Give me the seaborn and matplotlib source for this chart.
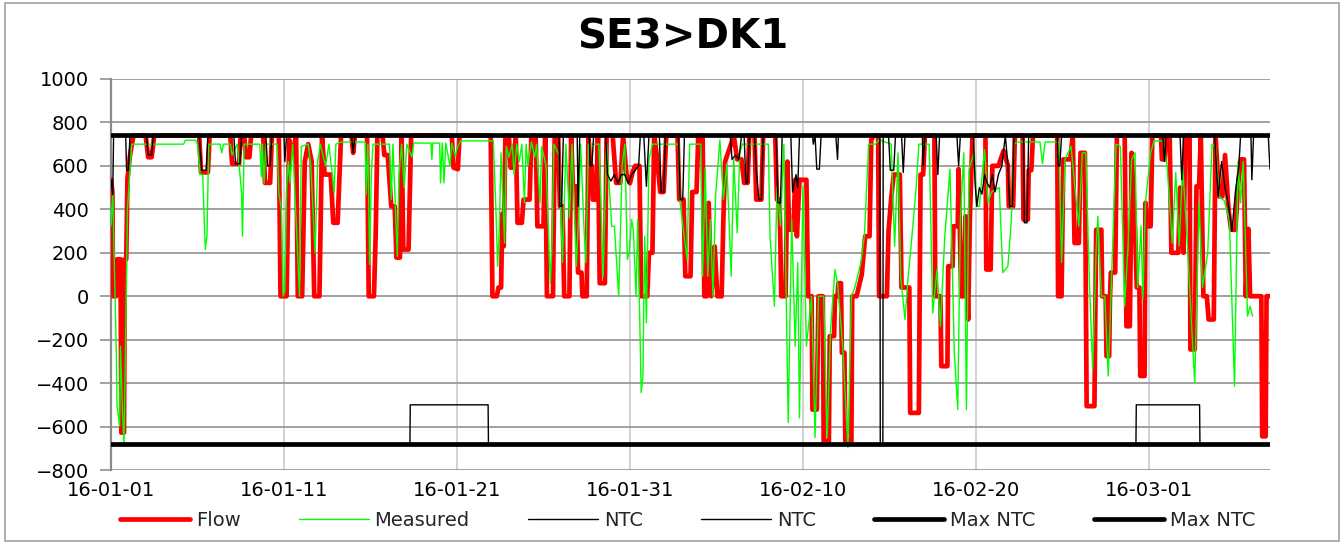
import numpy as np
import pandas as pd
import matplotlib
matplotlib.use("Agg")
import matplotlib.pyplot as plt
import matplotlib.patches as mpatches
import seaborn as sns

# ---------------- data (days since 2016-01-01, MW) ----------------
flow_day = [0.0, 0.08, 0.12, 0.3, 0.35, 0.55, 0.6, 0.75, 0.8, 0.88, 0.95, 1.1, 1.3,
            2.0, 2.15, 2.35, 2.5, 5.1, 5.2, 5.6, 5.7, 6.9, 7.0, 7.4, 7.5, 7.7, 7.8, 8.0, 8.1,
            8.8, 8.9, 9.2, 9.3, 9.7, 9.8, 10.15, 10.3, 10.5, 10.7, 10.8, 11.05, 11.2, 11.4, 11.6,
            11.75, 12.05, 12.2, 12.35, 12.7, 12.85, 13.1, 13.3, 13.9, 14.0, 14.1,
            14.8, 14.9, 15.2, 15.3, 15.4, 15.7, 15.8, 16.0, 16.2, 16.4, 16.5, 16.7, 16.8, 16.9, 17.2, 17.35,
            19.7, 19.8, 20.05, 20.15, 21.95, 22.05, 22.3, 22.4, 22.55, 22.62, 22.7, 22.8, 23.0, 23.1,
            23.3, 23.4, 23.5, 23.75, 23.85, 24.2, 24.3, 24.55, 24.65, 25.0, 25.1, 25.2, 25.55, 25.65,
            25.85, 25.95, 26.1, 26.2, 26.5, 26.6, 26.7, 26.9, 27.0, 27.2, 27.25, 27.5, 27.6, 27.7,
            27.8, 27.85, 28.05, 28.15, 28.25, 28.55, 28.65, 29.0, 29.2, 29.45, 29.6, 29.8, 30.0,
            30.15, 30.3, 30.55, 30.65, 31.0, 31.1, 31.3, 31.4, 31.55, 31.75, 31.95, 32.1, 32.75,
            32.85, 33.1, 33.2, 33.5, 33.6, 33.85, 33.95, 34.2, 34.3, 34.45, 34.55, 34.7, 34.9, 35.05,
            35.3, 35.4, 35.5, 35.8, 36.0, 36.2, 36.45, 36.6, 36.8, 36.9, 37.2, 37.3, 37.6, 37.7,
            38.4, 38.5, 38.65, 38.75, 39.0, 39.1, 39.2, 39.45, 39.55, 39.65, 39.8, 40.2, 40.3, 40.5,
            40.55, 40.8, 40.9, 41.15, 41.2, 41.5, 41.55, 41.8, 41.85, 42.0, 42.05, 42.2, 42.25, 42.4,
            42.45, 42.8, 42.85, 43.1, 43.4, 43.6, 43.85, 43.95, 44.1, 44.35, 44.4, 44.85, 44.95, 45.1,
            45.25, 45.6, 45.7, 46.15, 46.2, 46.7, 46.75, 46.8, 46.95, 47.05, 47.6, 47.65, 47.95, 48.0,
            48.35, 48.4, 48.65, 48.7, 48.95, 49.0, 49.15, 49.3, 49.4, 49.55, 49.65, 49.8, 50.55, 50.6,
            50.85, 50.95, 51.3, 51.6, 51.85, 51.9, 52.15, 52.25, 52.7, 52.75, 53.0, 53.05, 53.2, 53.3,
            54.7, 54.75, 54.95, 55.05, 55.45, 55.6, 55.7, 55.95, 56.05, 56.3, 56.4, 56.85, 56.95, 57.25,
            57.3, 57.5, 57.55, 57.7, 57.75, 57.8, 58.05, 58.15, 58.6, 58.7, 58.9, 59.0, 59.2, 59.3,
            59.45, 59.5, 59.75, 59.8, 59.9, 60.1, 60.2, 60.7, 60.75, 60.9, 61.0, 61.2, 61.3, 61.7,
            61.8, 62.0, 62.1, 62.35, 62.4, 62.65, 62.75, 62.9, 63.0, 63.15, 63.35, 63.45, 63.75, 63.85,
            64.05, 64.25, 64.4, 64.6, 64.75, 65.0, 65.15, 65.3, 65.5, 65.6, 65.75, 65.85, 66.5, 66.55,
            66.75, 66.8, 67.0]
flow_val = [537, 480, 0, 0, 170, 170, -628, -628, 170, 170, 540, 650, 740,
            740, 640, 640, 740, 740, 570, 570, 740, 740, 610, 610, 740, 740, 640, 640, 740,
            740, 522, 522, 740, 740, 0, 0, 720, 650, 740, 0, 0, 620, 700, 620,
            0, 0, 740, 560, 560, 338, 338, 740, 740, 660, 740,
            740, 0, 0, 280, 740, 740, 650, 650, 414, 414, 178, 178, 740, 215, 215, 740,
            740, 592, 585, 740, 740, 0, 0, 40, 40, 380, 230, 740, 740, 592,
            592, 740, 338, 338, 445, 445, 740, 740, 322, 322, 740, 0, 0, 740,
            740, 414, 414, 0, 0, 740, 506, 506, 109, 109, 0, 0, 740, 600,
            600, 445, 445, 740, 60, 60, 740, 740, 522, 522, 740, 560, 520,
            570, 600, 600, 0, 0, 200, 200, 740, 650, 480, 480, 740, 740,
            445, 445, 92, 92, 480, 480, 740, 740, 0, 0, 430, 0, 229, 0,
            0, 353, 620, 690, 740, 630, 630, 522, 522, 740, 740, 445, 445, 740,
            740, 445, 445, 0, 0, 620, 306, 306, 536, 276, 536, 536, 0, 0,
            -522, -522, 0, 0, -668, -668, -184, -184, 0, 0, 60, 60, -260, -260,
            -668, -668, 0, 0, 100, 276, 276, 720, 740, 740, 0, 0, 300, 450,
            560, 560, 40, 40, -537, -537, 0, 560, 560, 740, 740, 0, 0, -322,
            -322, 138, 138, 322, 322, 585, 0, 0, 368, -107, 353, 740, 740, 123,
            123, 600, 600, 670, 600, 414, 414, 740, 740, 353, 353, 580, 580, 740,
            740, 0, 0, 630, 630, 740, 245, 245, 660, 660, -506, -506, 306, 306,
            0, 0, -276, -276, 0, 109, 109, 740, 740, -138, -138, 660, 300, 40,
            40, -367, -367, 430, 322, 322, 740, 740, 630, 630, 740, 740, 200, 200,
            500, 200, 740, 740, -245, -245, 506, 506, 740, 0, 0, -107, -107, 740,
            460, 460, 650, 400, 306, 306, 506, 630, 630, 0, 310, 0, 0, -645,
            -645, 0, 0]

meas_day = [0.0, 0.1, 0.3, 0.35, 0.5, 0.55, 0.65, 0.75, 0.85, 0.95, 1.2, 4.2, 4.3, 4.9, 5.0,
            5.15, 5.3, 5.45, 5.55, 5.65, 6.3, 6.4, 6.5, 6.9, 7.0, 7.3, 7.55, 7.6, 7.7, 8.6, 8.7,
            8.75, 8.85, 8.95, 9.6, 9.7, 9.85, 9.95, 10.05, 10.15, 10.25, 10.35, 10.5, 10.9, 11.0,
            11.4, 11.55, 11.8, 11.95, 12.1, 12.4, 12.6, 12.9, 13.0, 13.3, 14.7, 14.75, 14.85, 14.95,
            15.05, 15.15, 16.1, 16.2, 16.3, 16.55, 16.65, 16.8, 16.95, 17.1, 17.4, 17.5, 18.5, 18.55,
            18.6, 19.0, 19.05, 19.15, 19.25, 19.35, 19.6, 19.7, 19.9, 20.0, 20.2, 22.1, 22.25, 22.35,
            22.45, 22.55, 22.75, 22.85, 23.0, 23.2, 23.3, 23.45, 23.6, 23.75, 23.9, 24.0, 24.1, 24.3,
            24.5, 24.6, 24.8, 24.9, 25.15, 25.4, 25.5, 25.6, 25.9, 26.1, 26.3, 26.5, 26.65, 26.9,
            27.05, 27.15, 27.35, 27.45, 27.6, 28.2, 28.3, 28.45, 28.65, 28.95, 29.1, 29.35, 29.55,
            29.7, 29.85, 29.95, 30.1, 30.2, 30.35, 30.45, 30.65, 30.75, 30.85, 30.95, 31.1, 31.3,
            32.8, 32.9, 33.3, 33.45, 34.1, 34.2, 34.35, 34.5, 34.65, 34.8, 34.95, 35.2, 35.4, 35.6,
            35.85, 36.0, 36.2, 36.35, 36.5, 38.0, 38.1, 38.35, 38.5, 38.7, 38.9, 39.0, 39.15, 39.35,
            39.55, 39.7, 39.8, 40.0, 40.2, 40.5, 40.7, 40.9, 41.2, 41.4, 41.6, 41.85, 42.0, 42.3,
            42.6, 42.8, 43.0, 43.35, 43.55, 43.8, 44.2, 44.4, 45.1, 45.3, 45.5, 45.65, 45.9, 46.05,
            46.3, 46.55, 46.7, 47.3, 47.5, 47.75, 47.95, 48.2, 48.5, 48.75, 48.95, 49.1, 49.3, 49.45,
            49.6, 49.9, 50.05, 50.2, 50.3, 50.5, 50.7, 50.9, 51.35, 51.55, 51.85, 52.05, 52.2, 52.4,
            53.7, 53.85, 54.0, 54.8, 54.95, 55.15, 55.5, 55.75, 55.95, 56.15, 56.35, 56.55, 56.75,
            56.95, 57.05, 57.25, 57.45, 57.65, 57.85, 58.1, 58.35, 58.6, 58.8, 59.0, 59.2, 59.35,
            59.55, 59.65, 59.8, 60.1, 60.3, 60.8, 61.05, 61.35, 61.55, 61.75, 61.95, 62.2, 62.45,
            62.65, 62.9, 63.1, 63.4, 63.65, 63.85, 64.05, 64.35, 64.65, 64.95, 65.15, 65.3, 65.45,
            65.7, 65.85, 66.0]
meas_val = [322, 475, -230, -505, -597, -230, -500, -690, -170, 400, 700, 700, 718, 718, 700,
            560, 560, 215, 280, 700, 700, 660, 700, 700, 650, 700, 475, 276, 700, 700, 550,
            700, 520, 700, 700, 480, 400, 0, 20, 500, 620, 522, 700, 0, 690,
            700, 600, 200, 620, 700, 600, 700, 475, 700, 710, 710, 470, 700, 146,
            570, 700, 700, 446, 700, 184, 560, 700, 500, 700, 640, 705, 705, 630,
            705, 705, 522, 705, 522, 705, 600, 705, 645, 680, 715, 715, 400, 138,
            322, 660, 245, 690, 640, 700, 560, 700, 620, 700, 430, 700, 600, 710,
            640, 700, 430, 690, 600, 60, 250, 700, 650, 155, 700, 360, 700, 138,
            400, 700, 300, 155, 700, 700, 500, 92, 700, 322, 322, 0, 600,
            700, 169, 200, 353, 300, 0, 353, -444, -367, 276, -122, 630, 700,
            700, 430, 169, 700, 700, 92, 590, 92, 353, 0, 460, 720, 446, 610,
            92, 630, 291, 660, 700, 700, 276, -46, 506, 322, 700, 155, -582, 353,
            -230, 155, -560, 506, -230, 0, -650, 0, 0, -650, -153, 123, 60, -230,
            -697, 0, 40, 155, 276, 700, 700, 720, 700, 230, 660, 92, -107, 60,
            276, 506, 700, 700, -77, 123, -138, 276, 585, -260, -522, 353, 660, -522,
            585, 660, 414, 414, 506, 675, 430, 480, 500, 109, 138, 353, 700, 710,
            710, 610, 710, 710, 155, 630, 690, 475, 322, 660, 660, 92, -338,
            215, 368, 0, 0, -367, 109, 700, 690, -46, 245, 630, 660, 40,
            322, -15, 430, 660, 715, 715, 600, 245, 570, 230, 600, 276, -107,
            -398, 430, 40, 200, 700, 690, 460, 440, 353, -414, 620, 430, 620,
            -92, -46, -92]

ntc_day = [0.0, 0.1, 0.15, 0.85, 0.9, 1.0, 1.1, 2.05, 2.15, 2.35, 2.45, 5.1, 5.25, 5.5, 5.6,
           7.1, 7.2, 7.45, 7.55, 8.95, 9.05, 9.2, 9.3, 10.0, 10.05, 10.15, 13.9, 14.0, 14.1,
           25.9, 25.95, 26.05, 26.15, 26.95, 27.0, 27.1, 27.65, 27.7, 27.8, 27.9, 28.6, 28.7,
           28.9, 29.1, 29.3, 29.5, 29.7, 29.9, 30.1, 30.3, 30.5, 30.6, 30.8, 30.95, 31.1, 31.7,
           31.8, 31.95, 32.05, 32.8, 32.9, 33.05, 33.15, 35.8, 35.9, 36.1, 36.3, 36.45, 36.6,
           36.7, 36.8, 36.9, 37.2, 37.3, 37.45, 37.6, 37.7, 38.45, 38.55, 38.7, 38.8, 39.3, 39.4,
           39.5, 39.6, 39.7, 39.8, 40.55, 40.6, 40.7, 40.8, 40.95, 41.05, 41.9, 42.0, 42.05,
           44.45, 44.47, 44.62, 44.64, 44.95, 45.05, 45.25, 45.35, 45.7, 45.8, 45.9, 46.9, 46.95,
           47.05, 47.7, 47.8, 47.9, 48.9, 49.0, 49.1, 49.85, 49.95, 50.05, 50.2, 50.35, 50.5,
           50.65, 50.8, 50.95, 51.1, 51.3, 51.5, 51.7, 51.85, 51.95, 52.1, 52.2, 52.75, 52.8,
           52.95, 53.05, 54.7, 54.75, 54.85, 54.95, 60.8, 60.9, 61.0, 61.8, 61.9, 62.0, 63.8,
           63.9, 64.0, 64.2, 64.4, 64.6, 64.8, 65.0, 65.2, 65.3, 65.9, 65.95, 66.05, 66.9, 67.0]
ntc_val = [537, 467, 740, 740, 580, 580, 740, 740, 650, 650, 740, 740, 580, 580, 740,
           740, 610, 610, 740, 740, 600, 600, 740, 740, 620, 740, 740, 660, 740,
           740, 414, 414, 740, 740, 414, 740, 740, 600, 600, 740, 740, 560,
           530, 560, 520, 560, 560, 520, 560, 580, 600, 740, 740, 506, 740, 740,
           480, 480, 740, 740, 445, 445, 740, 740, 630, 650, 630, 740, 740,
           522, 522, 740, 740, 580, 445, 445, 740, 740, 430, 430, 740, 740, 480,
           520, 560, 500, 740, 740, 700, 740, 585, 585, 740, 740, 630, 740,
           740, -680, -680, 740, 740, 580, 580, 740, 740, 570, 740, 740, 600,
           740, 740, 560, 740, 740, 600, 740, 740, 522, 414, 500, 470, 560,
           520, 500, 560, 480, 560, 600, 740, 600, 414, 414, 740, 740, 338,
           338, 740, 740, 600, 600, 740, 740, 620, 740, 740, 536, 740, 740,
           600, 460, 620, 500, 420, 300, 480, 600, 740, 740, 536, 740, 740, 585]

ntc2_day = [0.0, 17.28, 17.3, 21.8, 21.82, 59.25, 59.27, 62.93, 62.95, 67.0]
ntc2_val = [-680, -680, -500, -500, -680, -680, -500, -500, -680, -680]

max_day = [0.0, 67.0]
max_pos = [740, 740]
max_neg = [-680, -680]

tick_days = [0, 10, 20, 30, 40, 50, 60]

# ---------------- plotting ----------------
sns.set_theme(style="white")
plt.rcParams['font.family'] = ['DejaVu Sans']

start = pd.Timestamp("2016-01-01")


def to_dates(days):
    return start + pd.to_timedelta(np.asarray(days, dtype=float), unit="D")


W, H = 1344, 542
fig = plt.figure(figsize=(W / 100, H / 100), dpi=100)
fig.patch.set_facecolor("white")
ax = fig.add_axes([111 / W, 1 - 470 / H, (1270 - 111) / W, (470 - 79) / H])

common = dict(ax=ax, sort=False, estimator=None)
sns.lineplot(x=to_dates(flow_day), y=flow_val, color="#ff0000", lw=3.4,
             label="Flow", zorder=3, **common)
sns.lineplot(x=to_dates(meas_day), y=meas_val, color="#00ff00", lw=1.0,
             label="Measured", zorder=4, **common)
sns.lineplot(x=to_dates(ntc_day), y=ntc_val, color="black", lw=1.0,
             label="NTC", zorder=5, **common)
sns.lineplot(x=to_dates(ntc2_day), y=ntc2_val, color="black", lw=1.0,
             label="NTC", zorder=5, **common)
sns.lineplot(x=to_dates(max_day), y=max_pos, color="black", lw=3.4,
             label="Max NTC", zorder=6, **common)
sns.lineplot(x=to_dates(max_day), y=max_neg, color="black", lw=3.4,
             label="Max NTC", zorder=6, **common)

handles, labels = ax.get_legend_handles_labels()
if ax.get_legend() is not None:
    ax.get_legend().remove()

ax.set_xlim(to_dates([0])[0], to_dates([67.0])[0])
ax.set_ylim(-800, 1000)
ax.set_yticks(np.arange(-800, 1001, 200))
ticks = to_dates(tick_days)
ax.set_xticks(ticks)
ax.set_xticklabels([t.strftime("%y-%m-%d") for t in ticks])
ax.set_xlabel("")
ax.set_ylabel("")

ax.set_axisbelow(True)
ax.grid(axis="y", color="#9a9a9a", lw=1.3)
ax.grid(axis="x", color="#cfcfcf", lw=1.3)
for s in ["top", "right", "bottom"]:
    ax.spines[s].set_visible(False)
ax.spines["left"].set_color("#8a8a8a")
ax.spines["left"].set_linewidth(1.6)
ax.tick_params(axis="y", which="both", left=True, length=8, width=1.3, color="#9a9a9a",
               labelsize=14, pad=8, labelcolor="black")
ax.tick_params(axis="x", which="both", bottom=False, length=0, labelsize=14, pad=8,
               labelcolor="black")

fig.text(683 / W, 1 - 38 / H, "SE3>DK1", ha="center", va="center",
         fontsize=29, fontweight="bold", color="black")

fig.legend(handles, labels, loc="center", bbox_to_anchor=(0.5115, 1 - 520 / H), ncol=6,
           frameon=False, fontsize=14, handlelength=3.6, columnspacing=3.0,
           handletextpad=0.3)

# outer frame
fig.add_artist(mpatches.Rectangle((5 / W, 1 / H), (W - 10) / W, (H - 4) / H,
                                  transform=fig.transFigure, fill=False,
                                  edgecolor="#a0a0a0", lw=1.2))

fig.savefig("out.png", dpi=100, facecolor="white")
